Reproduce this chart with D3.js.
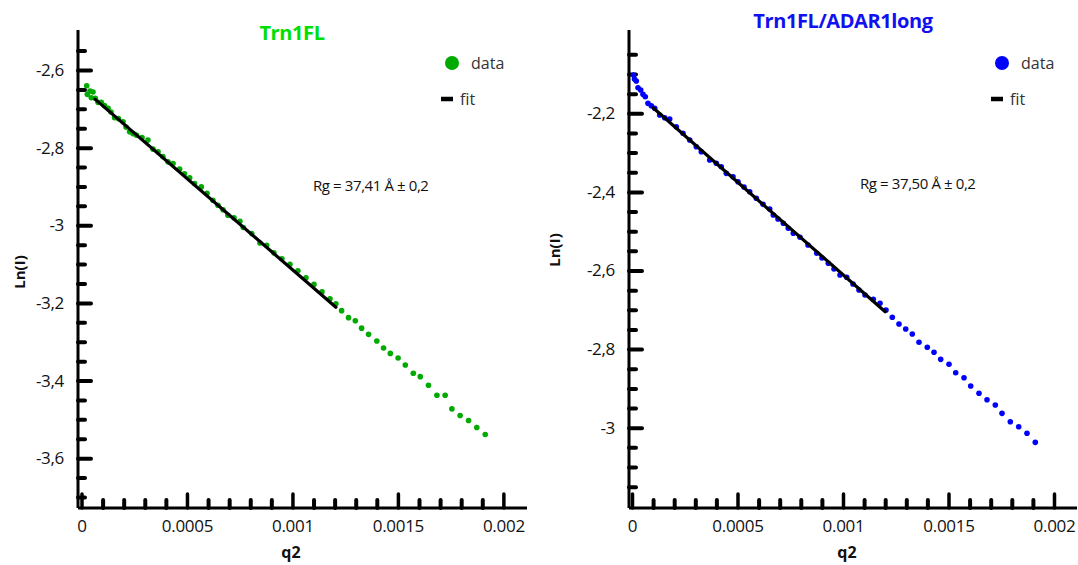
<!DOCTYPE html>
<html>
<head>
<meta charset="utf-8">
<script src="https://cdn.jsdelivr.net/npm/d3@7"></script>
<style>
  html, body { margin: 0; padding: 0; background: #fff; }
  svg { display: block; }
  text { font-family: "Open Sans", "Noto Sans", sans-serif; }
</style>
</head>
<body>
<svg id="chart" width="1078" height="565"></svg>
<script>
// ---------- DATA ----------
const leftTitle = "Trn1FL";
const rightTitle = "Trn1FL/ADAR1long";
const leftRgText = "Rg = 37,41 Å ± 0,2";
const rightRgText = "Rg = 37,50 Å ± 0,2";

const leftQ2 = [0.0000246, 0.0000275, 0.0000403, 0.0000464, 0.0000545, 0.0000654, 0.0000782, 0.0000938, 0.000109, 0.000126,
  0.000140, 0.000157, 0.000175, 0.000197, 0.000211, 0.000228, 0.000244, 0.000260, 0.000287, 0.000315,
  0.000339, 0.000363, 0.000386, 0.000410, 0.000434, 0.000465, 0.000488, 0.000513, 0.000536, 0.000568,
  0.000595, 0.000623, 0.000647, 0.000671, 0.000694, 0.000723, 0.000751, 0.000767, 0.000807, 0.000846,
  0.000878, 0.000912, 0.000950, 0.000988, 0.001026, 0.001064, 0.001102, 0.001140, 0.001178, 0.001206,
  0.001233, 0.001266, 0.001298, 0.001328, 0.001361, 0.001400, 0.001432, 0.001464, 0.001501, 0.001535,
  0.001573, 0.001606, 0.001645, 0.001685, 0.001724, 0.001756, 0.001795, 0.001835, 0.001874, 0.001914];
const leftLnI = [-2.6405, -2.6627, -2.6542, -2.6715, -2.6568, -2.6730, -2.6834, -2.6834, -2.6916, -2.6988,
  -2.7084, -2.7231, -2.7252, -2.7334, -2.7471, -2.7592, -2.7639, -2.7677, -2.7742, -2.7806,
  -2.8039, -2.8108, -2.8232, -2.8366, -2.8408, -2.8555, -2.8671, -2.8779, -2.8924, -2.9012,
  -2.9174, -2.9355, -2.9484, -2.9600, -2.9742, -2.9806, -2.9897, -3.0059, -3.0214, -3.0457,
  -3.0516, -3.0710, -3.0865, -3.1006, -3.1174, -3.1355, -3.1523, -3.1716, -3.1892, -3.2021,
  -3.220, -3.238, -3.246, -3.265, -3.281, -3.298, -3.316, -3.330, -3.342, -3.360,
  -3.381, -3.390, -3.412, -3.438, -3.438, -3.473, -3.490, -3.503, -3.521, -3.539];
const leftFitQ2 = [0.000064, 0.001206];
const leftFitLnI = [-2.675, -3.211];

const rightQ2 = [0.0000071, 0.0000118, 0.0000204, 0.0000284, 0.0000412, 0.0000521, 0.0000630, 0.0000758, 0.0000915, 0.0001076,
  0.0001313, 0.000155, 0.0001787, 0.00021, 0.0002417, 0.0002735, 0.0003047, 0.0003284, 0.0003682, 0.0003995,
  0.0004232, 0.0004469, 0.0004787, 0.0005024, 0.0005308, 0.0005578, 0.0005891, 0.0006209, 0.0006526, 0.0006697,
  0.0006919, 0.0007171, 0.0007408, 0.0007645, 0.0007962, 0.0008341, 0.0008754, 0.0009005, 0.0009303, 0.0009573,
  0.0009858, 0.0010175, 0.0010474, 0.0010758, 0.0011043, 0.0011436, 0.0011754, 0.0012038,
  0.0012336, 0.0012654, 0.0012972, 0.0013284, 0.0013602, 0.0013995, 0.0014313, 0.001463, 0.0015024, 0.0015341,
  0.0015735, 0.0016052, 0.0016445, 0.0016825, 0.0017218, 0.0017536, 0.0017929, 0.0018327, 0.001872, 0.0019114];
const rightLnI = [-2.1025, -2.1127, -2.1178, -2.1349, -2.1407, -2.1517, -2.1578, -2.1746, -2.1807, -2.1873,
  -2.2043, -2.2112, -2.2145, -2.2341, -2.2509, -2.2679, -2.2850, -2.2977, -2.3188, -2.3272,
  -2.3359, -2.3527, -2.3613, -2.3740, -2.3875, -2.3995, -2.4163, -2.4316, -2.4435, -2.4588,
  -2.4690, -2.4799, -2.4926, -2.5053, -2.5155, -2.5351, -2.5562, -2.5682, -2.5817, -2.5962,
  -2.6115, -2.6173, -2.6344, -2.6496, -2.6623, -2.6733, -2.6835, -2.7005,
  -2.7191, -2.7361, -2.7489, -2.7616, -2.7827, -2.7954, -2.8081, -2.8260, -2.8387, -2.8601,
  -2.8728, -2.8939, -2.9125, -2.9288, -2.9422, -2.9634, -2.9847, -2.9975, -3.0142, -3.0372];
const rightFitQ2 = [0.0001, 0.0012];
const rightFitLnI = [-2.186, -2.705];

const xMajorTicks = [0, 0.0005, 0.001, 0.0015, 0.002];
const leftYMajorTicks = [-2.6, -2.8, -3, -3.2, -3.4, -3.6];
const rightYMajorTicks = [-2.2, -2.4, -2.6, -2.8, -3];

// ---------- DRAW ----------
const svg = d3.select("#chart");

function drawPanel(cfg) {
  const g = svg.append("g");
  const x = d3.scaleLinear().domain(cfg.xDomain).range([cfg.left, cfg.right]);
  const y = d3.scaleLinear().domain(cfg.yDomain).range([cfg.bottom, cfg.top]);

  const xMinor = d3.range(0, 21).map(i => +(i * 0.0001).toFixed(4)).filter(v => !xMajorTicks.includes(v));
  const yMinor = d3.range(0, 40).map(i => +(cfg.yMinorStart - i * 0.05).toFixed(2))
    .filter(v => v >= cfg.yMinorEnd && !cfg.yMajor.includes(v));

  // minor x ticks
  g.append("g").attr("transform", `translate(0,${cfg.bottom})`)
    .call(d3.axisBottom(x).tickValues(xMinor).tickSize(-8).tickSizeOuter(0).tickFormat(""))
    .call(a => a.select(".domain").remove())
    .call(a => a.selectAll(".tick line").attr("stroke", "#000").attr("stroke-width", 4).attr("stroke-linecap", "round"));
  // major x ticks + labels
  g.append("g").attr("transform", `translate(0,${cfg.bottom})`)
    .call(d3.axisBottom(x).tickValues(xMajorTicks).tickSize(-14).tickSizeOuter(0).tickPadding(12).tickFormat(d => String(d)))
    .call(a => a.select(".domain").attr("stroke", "#000").attr("stroke-width", 3)
      .attr("d", `M${cfg.left},0H${cfg.right}`))
    .call(a => a.selectAll(".tick line").attr("stroke", "#000").attr("stroke-width", 3.5).attr("stroke-linecap", "round"))
    .call(a => a.selectAll(".tick text").attr("font-size", 17).attr("fill", "#111")
      .attr("font-family", "'Open Sans', sans-serif").attr("dy", "0.71em").attr("letter-spacing", "-0.3"));

  // minor y ticks
  g.append("g").attr("transform", `translate(${cfg.left},0)`)
    .call(d3.axisLeft(y).tickValues(yMinor).tickSize(-7).tickSizeOuter(0).tickFormat(""))
    .call(a => a.select(".domain").remove())
    .call(a => a.selectAll(".tick line").attr("stroke", "#000").attr("stroke-width", 4).attr("stroke-linecap", "round"));
  // major y ticks + labels
  g.append("g").attr("transform", `translate(${cfg.left},0)`)
    .call(d3.axisLeft(y).tickValues(cfg.yMajor).tickSize(-13).tickSizeOuter(0).tickPadding(cfg.yPad)
      .tickFormat(d => String(d).replace(".", ",")))
    .call(a => a.select(".domain").attr("stroke", "#000").attr("stroke-width", 3)
      .attr("d", `M0,${cfg.top}V${cfg.bottom}`))
    .call(a => a.selectAll(".tick line").attr("stroke", "#000").attr("stroke-width", 4).attr("stroke-linecap", "round"))
    .call(a => a.selectAll(".tick text").attr("font-size", 17).attr("fill", "#111")
      .attr("font-family", "'Open Sans', sans-serif").attr("letter-spacing", "-0.3"));

  // data points
  const pts = cfg.q2.map((q, i) => ({ q, v: cfg.lnI[i] }));
  g.append("g").selectAll("circle").data(pts).join("circle")
    .attr("cx", d => x(d.q)).attr("cy", d => y(d.v)).attr("r", 2.8)
    .attr("fill", cfg.dotColor);

  // fit line
  const fitPts = cfg.fitQ2.map((q, i) => ({ q, v: cfg.fitLnI[i] }));
  g.append("path").datum(fitPts)
    .attr("d", d3.line().x(d => x(d.q)).y(d => y(d.v)))
    .attr("fill", "none").attr("stroke", "#000").attr("stroke-width", 3.2).attr("stroke-linecap", "round");

  // title
  g.append("text").attr("x", cfg.titleX).attr("y", cfg.titleY).attr("text-anchor", "middle")
    .attr("font-weight", "bold").attr("font-size", 20).attr("letter-spacing", "-0.4")
    .attr("fill", cfg.titleColor).text(cfg.title);

  // legend
  g.append("circle").attr("cx", cfg.legX).attr("cy", 63).attr("r", 7).attr("fill", cfg.dotColor);
  g.append("text").attr("x", cfg.legX + 19).attr("y", 69).attr("font-size", 16).attr("fill", "#333").text("data");
  g.append("line").attr("x1", cfg.legX - 11).attr("x2", cfg.legX + 1).attr("y1", 99).attr("y2", 99)
    .attr("stroke", "#000").attr("stroke-width", 4.5);
  g.append("text").attr("x", cfg.legX + 8).attr("y", 105).attr("font-size", 16).attr("fill", "#333").text("fit");

  // Rg annotation
  g.append("text").attr("x", cfg.rgX).attr("y", cfg.rgY).attr("font-size", 15).attr("letter-spacing", "-0.4")
    .attr("fill", "#111").text(cfg.rgText);

  // axis titles
  g.append("text").attr("transform", `translate(${cfg.yLabelX},${cfg.yLabelY}) rotate(-90)`)
    .attr("text-anchor", "middle").attr("font-weight", "bold").attr("font-size", 15).attr("fill", "#111").text("Ln(I)");
  g.append("text").attr("x", cfg.xLabelX).attr("y", 558).attr("text-anchor", "middle")
    .attr("font-weight", "bold").attr("font-size", 16).attr("fill", "#111").text("q2");
}

drawPanel({
  left: 78, right: 527, top: 30, bottom: 508,
  xDomain: [-0.0000166, 0.002112], yDomain: [-3.7283, -2.497],
  yMajor: leftYMajorTicks, yMinorStart: -2.55, yMinorEnd: -3.7, yPad: 14,
  q2: leftQ2, lnI: leftLnI, fitQ2: leftFitQ2, fitLnI: leftFitLnI,
  dotColor: "#00aa00", title: leftTitle, titleColor: "#00e000", titleX: 292, titleY: 40,
  legX: 452, rgX: 313, rgY: 191, rgText: leftRgText,
  yLabelX: 25, yLabelY: 272, xLabelX: 291
});

drawPanel({
  left: 629, right: 1077, top: 30, bottom: 508,
  xDomain: [-0.0000142, 0.002109], yDomain: [-3.2043, -1.988],
  yMajor: rightYMajorTicks, yMinorStart: -2.05, yMinorEnd: -3.15, yPad: 14,
  q2: rightQ2, lnI: rightLnI, fitQ2: rightFitQ2, fitLnI: rightFitLnI,
  dotColor: "#0000ff", title: rightTitle, titleColor: "#1010f0", titleX: 843, titleY: 28,
  legX: 1002, rgX: 860, rgY: 189, rgText: rightRgText,
  yLabelX: 560, yLabelY: 250, xLabelX: 847
});
</script>
</body>
</html>
